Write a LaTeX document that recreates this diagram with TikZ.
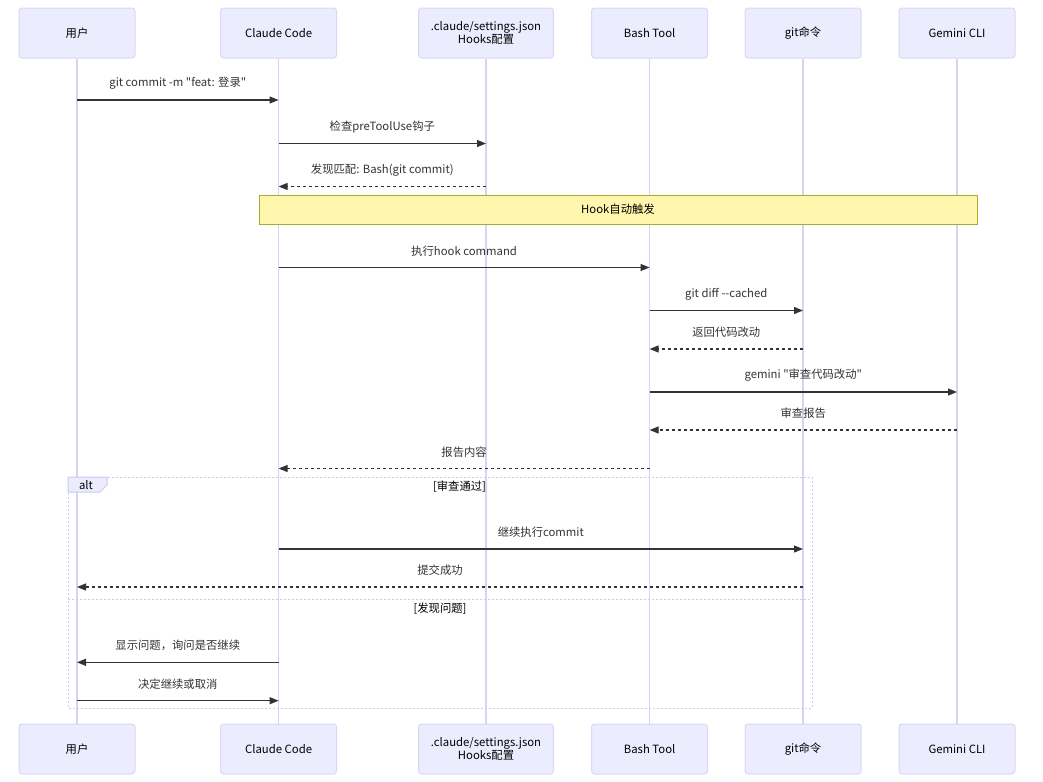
\documentclass[tikz,border=0pt]{standalone}
\usepackage{fontspec}
\setmainfont{Noto Sans CJK SC}[Ligatures=TeXOff]
\usetikzlibrary{arrows.meta}

\begin{document}
\begin{tikzpicture}
	[x=0.75pt,y=-0.75pt,line cap=butt,
	%Styles
	actor/.style={draw=actorline,fill=actorfill,line width=0.75pt,rounded corners=2.25pt,
		minimum width=87pt,minimum height=37.5pt,inner sep=2pt,align=center,
		font=\fontsize{8.5}{8}\selectfont,text=black},
	lifeline/.style={draw=lifecolor,line width=0.9pt},
	msg/.style={draw=msgcolor,line width=0.9pt,-{Triangle[length=6.75pt,width=5.25pt]}},
	reply/.style={msg,dash pattern=on 2.25pt off 2.25pt},
	msg text/.style={text=msgcolor,font=\fontsize{8.5}{10}\selectfont,yshift=12.5pt},
	note/.style={draw=notedraw,fill=notefill,line width=0.75pt,minimum width=538.5pt,
		minimum height=21.75pt,font=\fontsize{8.5}{10}\selectfont,text=black},
	frame/.style={draw=framecolor,line width=0.75pt,dash pattern=on 1.5pt off 1.5pt},
	section text/.style={text=black,font=\fontsize{8.5}{10}\selectfont}
	]
	
	%Colors
	\definecolor{actorfill}{HTML}{ECECFF}
	\definecolor{actorline}{HTML}{DCD6F7}
	\definecolor{lifecolor}{HTML}{D9D2F5}
	\definecolor{msgcolor}{HTML}{333333}
	\definecolor{notefill}{HTML}{FFF5AD}
	\definecolor{notedraw}{HTML}{AAAA33}
	\definecolor{framecolor}{HTML}{CFC8F2}
	
	\useasboundingbox (0,0) rectangle (1043,782);
	
	%Participants
	\node[actor] (usr) at (77,33) {用户};
	\node[actor] (claude) at (278.6,33) {Claude Code};
	\node[actor,minimum width=101pt] (settings) at (486,33) {.claude/settings.json\\Hooks配置};
	\node[actor] (bash) at (649.6,33) {Bash Tool};
	\node[actor] (git) at (803,33) {git命令};
	\node[actor] (gemini) at (957,33) {Gemini CLI};
	
	\node[actor] (usrB) at (77,749) {用户};
	\node[actor] (claudeB) at (278.6,749) {Claude Code};
	\node[actor,minimum width=101pt] (settingsB) at (486,749) {.claude/settings.json\\Hooks配置};
	\node[actor] (bashB) at (649.6,749) {Bash Tool};
	\node[actor] (gitB) at (803,749) {git命令};
	\node[actor] (geminiB) at (957,749) {Gemini CLI};
	
	%Lifelines
	\draw[lifeline] (usr) -- (usrB);
	\draw[lifeline] (claude) -- (claudeB);
	\draw[lifeline] (settings) -- (settingsB);
	\draw[lifeline] (bash) -- (bashB);
	\draw[lifeline] (git) -- (gitB);
	\draw[lifeline] (gemini) -- (geminiB);
	
	%Message rows
	\path (0,100) coordinate (m1) (0,143.5) coordinate (m2) (0,186.5) coordinate (m3)
		(0,267.5) coordinate (m4) (0,310.5) coordinate (m5) (0,349) coordinate (m6)
		(0,392) coordinate (m7) (0,430) coordinate (m8) (0,468.5) coordinate (m9)
		(0,549) coordinate (m10) (0,587) coordinate (m11) (0,662.3) coordinate (m12)
		(0,700.7) coordinate (m13);
	
	%The graphic
	\draw[msg] (usr |- m1) -- (claude |- m1) node[midway,msg text] {git commit -m "feat: 登录"};
	\draw[msg] (claude |- m2) -- (settings |- m2) node[midway,msg text] {检查preToolUse钩子};
	\draw[reply] (settings |- m3) -- (claude |- m3) node[midway,msg text] {发现匹配: Bash(git commit)};
	
	\node[note] (hooknote) at (618,209.5) {Hook自动触发};
	
	\draw[msg] (claude |- m4) -- (bash |- m4) node[midway,msg text] {执行hook command};
	\draw[msg] (bash |- m5) -- (git |- m5) node[midway,msg text] {git diff --cached};
	\draw[reply] (git |- m6) -- (bash |- m6) node[midway,msg text] {返回代码改动};
	\draw[msg] (bash |- m7) -- (gemini |- m7) node[midway,msg text] {gemini "审查代码改动"};
	\draw[reply] (gemini |- m8) -- (bash |- m8) node[midway,msg text] {审查报告};
	\draw[reply] (bash |- m9) -- (claude |- m9) node[midway,msg text] {报告内容};
	
	%alt block
	\draw[frame] (68,477) coordinate (altNW) rectangle (812,708) coordinate (altSE);
	\draw[frame] (altNW |- 0,599) coordinate (divL) -- (altSE |- divL) coordinate (divR);
	\draw[draw=framecolor,fill=actorfill,line width=0.75pt] (altNW) -- (107,477) -- (107,485)
		-- (100,492) -- (68,492) -- cycle;
	\node[section text] (alttag) at (86,485) {alt};
	\node[section text] (okcase) at (459.5,487) {[审查通过]};
	\node[section text] (badcase) at (440,608.5) {[发现问题]};
	
	\draw[msg] (claude |- m10) -- (git |- m10) node[midway,msg text] {继续执行commit};
	\draw[reply] (git |- m11) -- (usr |- m11) node[midway,msg text] {提交成功};
	\draw[msg] (claude |- m12) -- (usr |- m12) node[midway,msg text] {显示问题，询问是否继续};
	\draw[msg] (usr |- m13) -- (claude |- m13) node[midway,msg text] {决定继续或取消};
\end{tikzpicture}
\end{document}
